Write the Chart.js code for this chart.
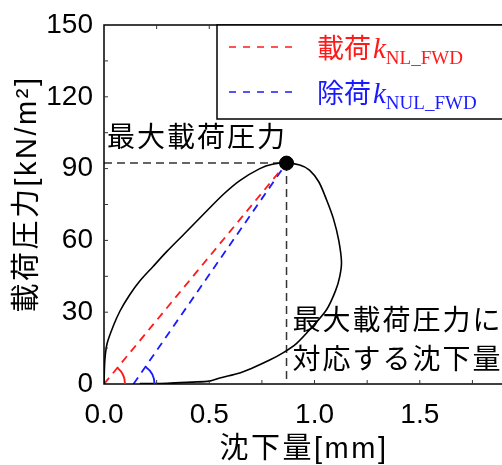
<!DOCTYPE html>
<html>
<head>
<meta charset="utf-8">
<script src="https://cdn.jsdelivr.net/npm/chart.js@4.4.0/dist/chart.umd.min.js"></script>
<style>
  html, body { margin: 0; padding: 0; background: #fff; overflow: hidden; }
  #wrap { width: 502px; height: 465px; overflow: hidden; }
</style>
</head>
<body>
<div id="wrap"><canvas id="chart" width="512" height="465"></canvas></div>
<script>
// 荷重-沈下量ループ (読み取り値)
const loopX = [0, 0.004, 0.015, 0.043, 0.076, 0.12, 0.17, 0.232, 0.30, 0.39, 0.49, 0.57, 0.645, 0.74, 0.80, 0.867,
               0.93, 0.976, 1.02, 1.057, 1.09, 1.115, 1.128, 1.12, 1.10, 1.057, 0.99, 0.915, 0.85, 0.787, 0.70, 0.645, 0.55, 0.50, 0.42, 0.30, 0.17];
const loopY = [0, 10, 17, 24, 30.5, 37, 43, 49, 55.5, 63.5, 72.5, 79.5, 85, 90, 91.8, 92.3,
               91.5, 89.4, 84.5, 77, 69, 60, 51, 45, 39, 31, 24, 17, 13, 10, 6.5, 4.6, 2.5, 1.2, 0.8, 0.3, 0.2];
const peak = [0.867, 92.3];
const unloadStartX = 0.14;
const xTicks = [0, 0.5, 1.0, 1.5];
const yTicks = [0, 30, 60, 90, 120, 150];

const JP = '"Liberation Sans", "Noto Sans CJK JP", sans-serif';
const RED = '#ff1a1a';
const BLUE = '#1a1aff';

const loopData = loopX.map((x, i) => ({ x: x, y: loopY[i] }));

const overlay = {
    id: 'overlay',
    afterDraw(chart) {
        const ctx = chart.ctx;
        const a = chart.chartArea;
        const xs = chart.scales.x, ys = chart.scales.y;
        ctx.save();

        // 枠
        ctx.strokeStyle = '#000';
        ctx.lineWidth = 1.5;
        ctx.strokeRect(a.left, a.top, a.right - a.left, a.bottom - a.top);

        // 内向き目盛
        ctx.lineWidth = 1;
        ctx.strokeStyle = '#333';
        for (let v = 0.25; v < 1.9; v += 0.25) {
            const px = xs.getPixelForValue(v);
            ctx.beginPath();
            ctx.moveTo(px, a.bottom); ctx.lineTo(px, a.bottom - 4);
            ctx.moveTo(px, a.top); ctx.lineTo(px, a.top + 4);
            ctx.stroke();
        }
        for (let v = 15; v < 150; v += 15) {
            const py = ys.getPixelForValue(v);
            ctx.beginPath();
            ctx.moveTo(a.left, py); ctx.lineTo(a.left + 4, py);
            ctx.stroke();
        }

        // 角度の円弧
        const arcAt = (x0, color) => {
            const cx = xs.getPixelForValue(x0), cy = ys.getPixelForValue(0);
            const ang = Math.atan2(ys.getPixelForValue(peak[1]) - cy, xs.getPixelForValue(peak[0]) - cx);
            ctx.strokeStyle = color;
            ctx.lineWidth = 1.8;
            ctx.beginPath();
            ctx.arc(cx, cy, 21, ang, 0, false);
            ctx.stroke();
        };
        arcAt(0, RED);
        arcAt(unloadStartX, BLUE);

        // 凡例
        const lx = 217, ly = a.top;
        ctx.fillStyle = '#fff';
        ctx.fillRect(lx, ly, 300, 94);
        ctx.strokeStyle = '#000';
        ctx.lineWidth = 1.5;
        ctx.strokeRect(lx, ly, 300, 94);
        const rows = [
            { y: ly + 22, color: RED, jp: '載荷', sub: 'NL_FWD' },
            { y: ly + 67, color: BLUE, jp: '除荷', sub: 'NUL_FWD' }
        ];
        rows.forEach(r => {
            ctx.strokeStyle = r.color;
            ctx.lineWidth = 1.5;
            ctx.setLineDash([7, 7]);
            ctx.beginPath();
            ctx.moveTo(lx + 12, r.y); ctx.lineTo(lx + 76, r.y);
            ctx.stroke();
            ctx.setLineDash([]);
            ctx.fillStyle = r.color;
            ctx.textBaseline = 'alphabetic';
            ctx.textAlign = 'left';
            ctx.font = '27px ' + JP;
            ctx.fillText(r.jp, lx + 100, r.y + 11);
            let w = ctx.measureText(r.jp).width;
            ctx.font = 'italic 29px "Liberation Serif", serif';
            ctx.fillText('k', lx + 100 + w + 2, r.y + 11);
            const kw = ctx.measureText('k').width;
            ctx.font = '19px "Liberation Serif", serif';
            ctx.fillText(r.sub, lx + 100 + w + 2 + kw, r.y + 17);
        });

        // 注記
        ctx.fillStyle = '#000';
        ctx.font = '28px ' + JP;
        ctx.letterSpacing = '2px';
        ctx.textBaseline = 'middle';
        ctx.textAlign = 'left';
        ctx.fillText('最大載荷圧力', a.left + 3, ys.getPixelForValue(peak[1]) - 24);
        const vx = xs.getPixelForValue(peak[0]) + 6;
        ctx.fillText('最大載荷圧力に', vx, 322);
        ctx.fillText('対応する沈下量', vx, 361);

        // 軸タイトル
        ctx.font = '29px ' + JP;
        ctx.letterSpacing = '2.5px';
        ctx.textAlign = 'center';
        ctx.fillText('沈下量[mm]', 304, 450);
        ctx.translate(28, 194);
        ctx.rotate(-Math.PI / 2);
        ctx.fillText('載荷圧力[kN/m²]', 0, 0);
        ctx.restore();
    }
};

new Chart(document.getElementById('chart').getContext('2d'), {
    type: 'scatter',
    data: {
        datasets: [
            {
                data: [{ x: peak[0], y: peak[1] }],
                pointRadius: 7,
                pointBackgroundColor: '#000',
                pointBorderColor: '#000'
            },
            {
                data: loopData,
                showLine: true,
                borderColor: '#000',
                borderWidth: 1.6,
                pointRadius: 0,
                tension: 0.3
            },
            {
                data: [{ x: 0, y: 0 }, { x: peak[0], y: peak[1] }],
                showLine: true,
                borderColor: RED,
                borderWidth: 1.8,
                borderDash: [8, 6],
                pointRadius: 0
            },
            {
                data: [{ x: unloadStartX, y: 0 }, { x: peak[0], y: peak[1] }],
                showLine: true,
                borderColor: BLUE,
                borderWidth: 1.8,
                borderDash: [8, 6],
                pointRadius: 0
            },
            {
                data: [{ x: 0, y: peak[1] }, { x: peak[0], y: peak[1] }],
                showLine: true,
                borderColor: '#333',
                borderWidth: 1.5,
                borderDash: [8, 5],
                pointRadius: 0
            },
            {
                data: [{ x: peak[0], y: peak[1] }, { x: peak[0], y: 0 }],
                showLine: true,
                borderColor: '#333',
                borderWidth: 1.5,
                borderDash: [8, 5],
                pointRadius: 0
            }
        ]
    },
    options: {
        responsive: false,
        animation: false,
        layout: { padding: { top: 25, right: 6, left: 0, bottom: 0 } },
        plugins: { legend: { display: false }, tooltip: { enabled: false } },
        scales: {
            x: {
                type: 'linear',
                min: 0,
                max: 1.9,
                afterBuildTicks: s => { s.ticks = xTicks.map(v => ({ value: v })); },
                afterFit: s => { s.height = 81; },
                ticks: {
                    color: '#000',
                    padding: 6,
                    font: { size: 28, family: '"Liberation Sans", sans-serif' },
                    callback: v => Number(v).toFixed(1)
                },
                grid: { display: false },
                border: { display: false }
            },
            y: {
                min: 0,
                max: 150,
                afterBuildTicks: s => { s.ticks = yTicks.map(v => ({ value: v })); },
                afterFit: s => { s.width = 104; },
                ticks: {
                    color: '#000',
                    padding: 3,
                    font: { size: 28, family: '"Liberation Sans", sans-serif' }
                },
                grid: { display: false },
                border: { display: false }
            }
        }
    },
    plugins: [overlay]
});
</script>
</body>
</html>
